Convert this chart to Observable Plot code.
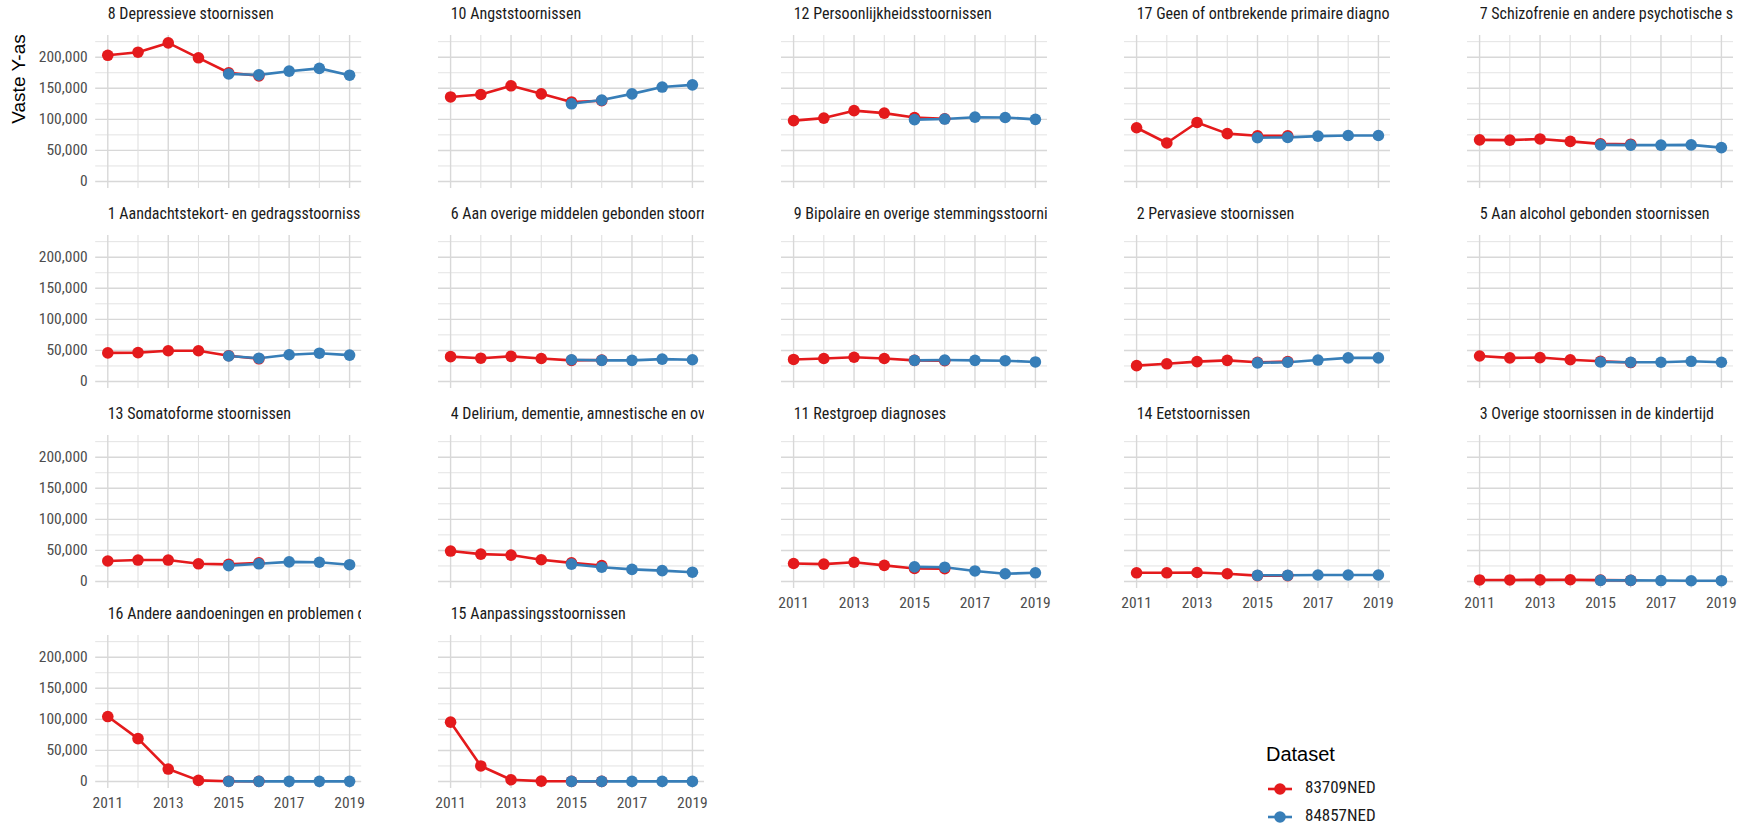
<!DOCTYPE html>
<html>
<head>
<meta charset="utf-8">
<script src="https://cdn.jsdelivr.net/npm/d3@7"></script>
<script src="https://cdn.jsdelivr.net/npm/@observablehq/plot@0.6"></script>
<style>
  html, body { margin: 0; padding: 0; background: #ffffff; }
  #chart { position: relative; width: 1738px; height: 826px; overflow: hidden; background: #ffffff; }
  .panel { position: absolute; }
  .panel svg { display: block; max-width: none; overflow: visible; }
  .abs { position: absolute; white-space: nowrap; }
  .strip { position: absolute; white-space: nowrap; overflow: hidden; }
</style>
</head>
<body>
<div id="chart"></div>
<script>
// ---------------- DATA ----------------
const categories = [
  "8 Depressieve stoornissen",
  "10 Angststoornissen",
  "12 Persoonlijkheidsstoornissen",
  "17 Geen of ontbrekende primaire diagnose",
  "7 Schizofrenie en andere psychotische stoornissen",
  "1 Aandachtstekort- en gedragsstoornissen",
  "6 Aan overige middelen gebonden stoornissen",
  "9 Bipolaire en overige stemmingsstoornissen",
  "2 Pervasieve stoornissen",
  "5 Aan alcohol gebonden stoornissen",
  "13 Somatoforme stoornissen",
  "4 Delirium, dementie, amnestische en overige cognitieve stoornissen",
  "11 Restgroep diagnoses",
  "14 Eetstoornissen",
  "3 Overige stoornissen in de kindertijd",
  "16 Andere aandoeningen en problemen die een reden voor zorg kunnen zijn",
  "15 Aanpassingsstoornissen"
];

const datasets = ["83709NED", "84857NED"];
const datasetColors = ["#E41A1C", "#377EB8"];

const years83709 = [2011, 2012, 2013, 2014, 2015, 2016];
const years84857 = [2015, 2016, 2017, 2018, 2019];

const values83709 = [
  [203000, 208000, 223000, 199000, 175000, 170000],
  [136000, 140000, 154000, 141000, 128000, 130000],
  [98000, 102000, 114000, 110000, 103000, 101000],
  [86500, 62000, 95000, 77000, 73500, 73500],
  [67000, 66500, 68500, 64500, 60500, 60000],
  [46000, 46500, 49500, 49500, 41500, 36500],
  [40000, 37500, 40500, 37000, 34000, 34500],
  [35500, 37000, 39000, 37000, 34000, 33500],
  [25500, 28500, 32000, 34000, 31000, 32000],
  [41000, 38000, 38500, 35000, 32500, 30500],
  [33000, 34500, 34500, 28500, 27500, 30000],
  [49000, 44000, 42500, 35000, 30000, 25500],
  [29000, 28000, 31000, 26000, 21000, 20500],
  [14000, 14000, 14500, 12500, 9500, 9500],
  [2500, 2500, 2700, 2800, 2200, 1900],
  [104500, 69000, 20000, 1800, 500, 300],
  [95500, 25000, 2800, 600, 300, 200]
];

const values84857 = [
  [173000, 171500, 177500, 182000, 171000],
  [125000, 131000, 141000, 152000, 155500],
  [99500, 100500, 103500, 103000, 100000],
  [70500, 71000, 73000, 74000, 74000],
  [59000, 58500, 58500, 59000, 54500],
  [41000, 37500, 43000, 45500, 42500],
  [35000, 34000, 34000, 36000, 35000],
  [34000, 34500, 34000, 33500, 31500],
  [30000, 31000, 34500, 38000, 38000],
  [31500, 31000, 31000, 32500, 31000],
  [25500, 28500, 31500, 31000, 27000],
  [28000, 23000, 19500, 17500, 15000],
  [23500, 23000, 17000, 12500, 14000],
  [10000, 10000, 10500, 10500, 10500],
  [1800, 1800, 1500, 1200, 1300],
  [300, 250, 200, 200, 200],
  [200, 200, 200, 200, 200]
];

const xTicks = [2011, 2013, 2015, 2017, 2019];
const xMinor = [2012, 2014, 2016, 2018];
const yTicks = [0, 50000, 100000, 150000, 200000];
const yMinor = [25000, 75000, 125000, 175000, 225000];
const yTitle = "Vaste Y-as";
const legendTitle = "Dataset";

// ---------------- LAYOUT ----------------
const FONT = "'Roboto Condensed','Liberation Sans Narrow','DejaVu Sans Condensed',Roboto,sans-serif";
const FONT2 = "'Liberation Sans',Arial,Helvetica,sans-serif";
const nCols = 5;
const panelW = 266, panelH = 153;
const colStep = 343, rowStep = 200;
const left0 = 95.2;
const mTop = 35, mBottom = 28, mSide = 25;
const xDomain = [2010.6, 2019.4];
const yDomain = [-11250, 234900];
const gridMajor = "#d8d8d8", gridMinor = "#e0e0e0";
const tickColor = "#4d4d4d", titleColor = "#1a1a1a";

const chart = document.getElementById("chart");

categories.forEach((cat, i) => {
  const col = i % nCols, row = Math.floor(i / nCols);
  const showY = col === 0;
  const showX = i + nCols >= categories.length;
  const mLeft = showY ? left0 : mSide;
  const px = left0 + col * colStep;
  const py = mTop + row * rowStep;
  const d83 = values83709[i].map((v, j) => ({year: years83709[j], value: v}));
  const d84 = values84857[i].map((v, j) => ({year: years84857[j], value: v}));

  const svg = Plot.plot({
    width: mLeft + panelW + mSide,
    height: mTop + panelH + mBottom,
    marginLeft: mLeft,
    marginRight: mSide,
    marginTop: mTop,
    marginBottom: mBottom,
    x: {domain: xDomain, axis: null},
    y: {domain: yDomain, axis: null},
    style: {fontFamily: FONT, fontSize: "15px", background: "transparent", overflow: "visible"},
    marks: [
      Plot.gridY(yMinor, {stroke: gridMinor, strokeWidth: 0.9, strokeOpacity: 1}),
      Plot.gridY(yTicks, {stroke: gridMajor, strokeWidth: 1.4, strokeOpacity: 1}),
      Plot.gridX(xMinor, {stroke: gridMinor, strokeWidth: 1.1, strokeOpacity: 1}),
      Plot.gridX(xTicks, {stroke: gridMajor, strokeWidth: 1.4, strokeOpacity: 1}),
      showY ? Plot.axisY(yTicks, {tickSize: 0, tickPadding: 8, tickFormat: d3.format(","), fontSize: 15.5, color: tickColor, label: null}) : null,
      showX ? Plot.axisX(xTicks, {tickSize: 0, tickPadding: 8, tickFormat: d => String(d), fontSize: 15.5, color: tickColor, label: null}) : null,
      Plot.line(d83, {x: "year", y: "value", stroke: datasetColors[0], strokeWidth: 2.6}),
      Plot.line(d84, {x: "year", y: "value", stroke: datasetColors[1], strokeWidth: 2.6}),
      Plot.dot(d83, {x: "year", y: "value", r: 5.8, fill: datasetColors[0], stroke: "none"}),
      Plot.dot(d84, {x: "year", y: "value", r: 5.8, fill: datasetColors[1], stroke: "none"})
    ]
  });

  const div = document.createElement("div");
  div.className = "panel";
  div.style.left = (px - mLeft) + "px";
  div.style.top = (row * rowStep) + "px";
  div.style.width = (mLeft + panelW + mSide) + "px";
  div.style.height = (mTop + panelH + mBottom) + "px";
  div.appendChild(svg);
  chart.appendChild(div);

  // facet strip title, clipped at the panel's right edge
  const st = document.createElement("div");
  st.className = "strip";
  st.textContent = cat;
  Object.assign(st.style, {
    left: (px + 12.5) + "px", top: (py - 19 - 12) + "px",
    width: (panelW - 12.5) + "px", height: "24px", lineHeight: "24px",
    font: "16px " + FONT, color: titleColor
  });
  chart.appendChild(st);
});

// Y axis title
const yt = document.createElement("div");
yt.className = "abs";
yt.textContent = yTitle;
Object.assign(yt.style, {
  left: "19px", top: "79px", font: "19px " + FONT2, color: "#000",
  transform: "translate(-50%,-50%) rotate(-90deg)", transformOrigin: "center center"
});
chart.appendChild(yt);

// Legend
const lt = document.createElement("div");
lt.className = "abs";
lt.textContent = legendTitle;
Object.assign(lt.style, {left: "1266px", top: "743px", height: "24px", lineHeight: "24px", font: "20px " + FONT2, color: "#000"});
chart.appendChild(lt);

datasets.forEach((name, k) => {
  const cy = 789.3 + k * 27.4;
  const key = document.createElementNS("http://www.w3.org/2000/svg", "svg");
  key.setAttribute("width", "30");
  key.setAttribute("height", "20");
  key.style.position = "absolute";
  key.style.left = "1265px";
  key.style.top = (cy - 10) + "px";
  key.innerHTML = `<line x1="3" x2="27" y1="10" y2="10" stroke="${datasetColors[k]}" stroke-width="2.6"/><circle cx="15" cy="10" r="5.8" fill="${datasetColors[k]}"/>`;
  chart.appendChild(key);
  const lab = document.createElement("div");
  lab.className = "abs";
  lab.textContent = name;
  Object.assign(lab.style, {left: "1305px", top: (cy - 12) + "px", height: "24px", lineHeight: "24px", font: "17px " + FONT, color: titleColor});
  chart.appendChild(lab);
});
</script>
</body>
</html>
